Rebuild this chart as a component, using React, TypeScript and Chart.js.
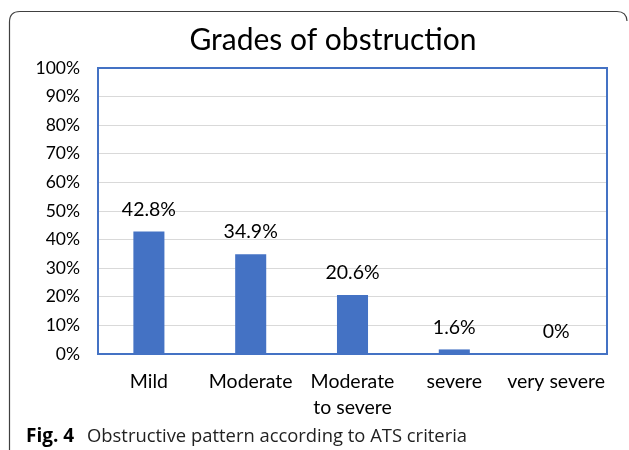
import React, { useEffect, useRef } from "react";
import { Chart, registerables } from "chart.js";

Chart.register(...registerables);

const categories: (string | string[])[] = ["Mild", "Moderate", ["Moderate", "to severe"], "severe", "very severe"];
const values: number[] = [42.8, 34.9, 20.6, 1.6, 0];
const valueLabels: string[] = ["42.8%", "34.9%", "20.6%", "1.6%", "0%"];
const titleText = "Grades of obstruction";
const captionBold = "Fig. 4";
const captionText = "Obstructive pattern according to ATS criteria";

const FONT = "Lato, 'Open Sans', sans-serif";
const BLUE = "#4472C4";

const decorPlugin = {
  id: "decor",
  beforeDraw(chart: any) {
    const ctx = chart.ctx;
    ctx.save();
    ctx.fillStyle = "#ffffff";
    ctx.fillRect(0, 0, chart.width, chart.height);
    // outer frame
    ctx.strokeStyle = "#404040";
    ctx.lineWidth = 1.2;
    ctx.beginPath();
    ctx.moveTo(9.5, 450);
    ctx.lineTo(9.5, 22);
    ctx.quadraticCurveTo(9.5, 11.5, 20, 11.5);
    ctx.lineTo(617, 11.5);
    ctx.quadraticCurveTo(626.5, 11.5, 627, 21);
    ctx.stroke();
    // title
    ctx.fillStyle = "#000000";
    ctx.font = `30px ${FONT}`;
    ctx.textAlign = "center";
    ctx.textBaseline = "middle";
    ctx.fillText(titleText, 333, 40);
    // caption
    ctx.textAlign = "left";
    ctx.font = `bold 19px 'Open Sans', sans-serif`;
    ctx.fillText(captionBold, 26, 437);
    ctx.font = `18.4px 'Open Sans', sans-serif`;
    ctx.fillStyle = "#222";
    ctx.fillText(captionText, 87, 437);
    ctx.restore();
  },
  afterDatasetsDraw(chart: any) {
    const ctx = chart.ctx;
    const area = chart.chartArea;
    ctx.save();
    ctx.strokeStyle = BLUE;
    ctx.lineWidth = 2;
    ctx.strokeRect(area.left, area.top, area.right - area.left, area.bottom - area.top);
    const meta = chart.getDatasetMeta(0);
    ctx.fillStyle = "#000";
    ctx.font = `19.5px ${FONT}`;
    ctx.textAlign = "center";
    ctx.textBaseline = "middle";
    meta.data.forEach((bar: any, i: number) => {
      ctx.fillText(valueLabels[i], bar.x, bar.y - 22);
    });
    ctx.restore();
  },
};

export default function App() {
  const ref = useRef<HTMLCanvasElement>(null);
  useEffect(() => {
    if (!ref.current) return;
    const chart = new Chart(ref.current, {
      type: "bar",
      data: {
        labels: categories,
        datasets: [
          {
            data: values,
            backgroundColor: BLUE,
            barPercentage: 0.305,
            categoryPercentage: 1,
          },
        ],
      },
      plugins: [decorPlugin],
      options: {
        responsive: false,
        animation: false,
        layout: { padding: { left: 0, top: 68, right: 22, bottom: 0 } },
        plugins: { legend: { display: false }, title: { display: false }, tooltip: { enabled: false } },
        scales: {
          x: {
            grid: { display: false, drawTicks: false },
            border: { display: false },
            ticks: {
              color: "#000",
              font: { family: FONT, size: 19.5, lineHeight: "26px" } as any,
              padding: 15,
              maxRotation: 0,
              autoSkip: false,
            },
            afterFit(scale: any) {
              scale.height = 96;
            },
          },
          y: {
            min: 0,
            max: 100,
            grid: { color: "#d9d9d9", lineWidth: 1, drawTicks: false },
            border: { display: false },
            ticks: {
              stepSize: 10,
              color: "#000",
              font: { family: FONT, size: 17.5 },
              padding: 18,
              callback: (v: any) => `${v}%`,
            },
            afterFit(scale: any) {
              scale.width = 98;
            },
          },
        },
      },
    });
    return () => chart.destroy();
  }, []);
  return (
    <div style={{ position: "fixed", left: 0, top: 0, width: 629, height: 450, background: "#fff" }}>
      <canvas ref={ref} width={629} height={450} style={{ display: "block" }} />
    </div>
  );
}
